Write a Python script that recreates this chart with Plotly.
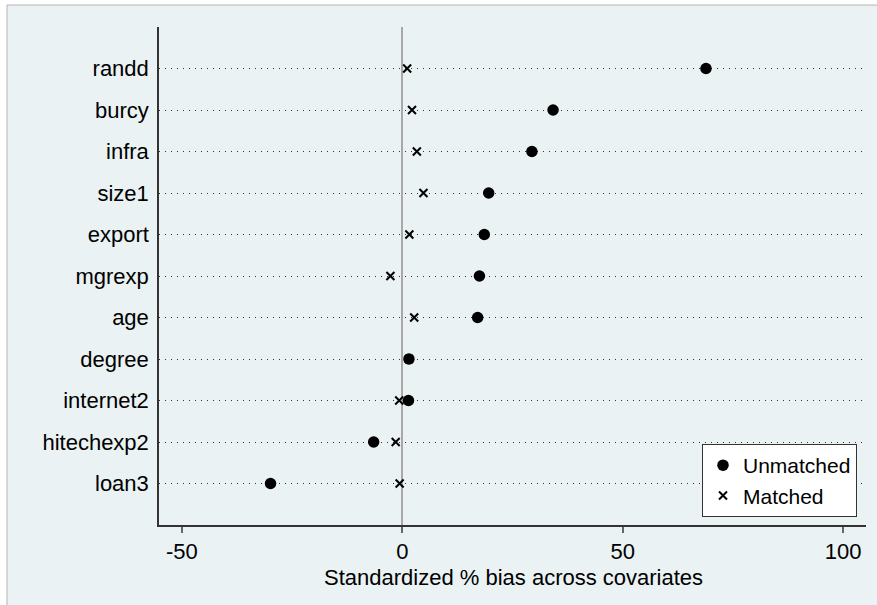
import plotly.graph_objects as go

# Data (top-to-bottom order as displayed)
covariates = ["randd", "burcy", "infra", "size1", "export", "mgrexp", "age",
              "degree", "internet2", "hitechexp2", "loan3"]
unmatched = [68.9, 34.2, 29.4, 19.6, 18.6, 17.5, 17.1, 1.5, 1.4, -6.5, -29.9]
matched = [1.1, 2.2, 3.3, 4.8, 1.6, -2.7, 2.7, 1.5, -0.7, -1.5, -0.6]
x_ticks = [-50, 0, 50, 100]
x_title = "Standardized % bias across covariates"

W, H = 877, 605
L, R, T, B = 159, 11, 27, 80
pw, ph = W - L - R, H - T - B

font = "Liberation Sans, Arial, sans-serif"

fig = go.Figure()
fig.add_trace(go.Scatter(
    x=unmatched, y=covariates, mode="markers", name="Unmatched",
    marker=dict(symbol="circle", size=11.5, color="black"),
))
fig.add_trace(go.Scatter(
    x=matched, y=covariates, mode="markers", name="Matched",
    marker=dict(symbol="x-thin", size=8, color="black",
                line=dict(width=2, color="black")),
))

def px_x(p):
    return (p - L) / pw

def px_y(p):
    return (H - B - p) / ph

# graph region background with thin border (top/left visible)
fig.add_shape(type="rect", xref="paper", yref="paper", layer="below",
              x0=px_x(7), x1=px_x(W + 10), y0=px_y(H + 10), y1=px_y(5),
              fillcolor="#eaf2f3", line=dict(color="#b4b4b4", width=1))

# x-axis title
fig.add_annotation(text=x_title, xref="paper", yref="paper",
                   x=px_x(513), y=px_y(577), xanchor="center", yanchor="middle",
                   showarrow=False, font=dict(size=22))

fig.update_layout(
    width=W, height=H,
    margin=dict(l=L, r=R, t=T, b=B, pad=0),
    paper_bgcolor="white",
    plot_bgcolor="white",
    font=dict(family=font, size=22, color="black"),
    showlegend=True,
    legend=dict(
        x=px_x(857), y=px_y(517), xanchor="right", yanchor="bottom",
        bgcolor="white", bordercolor="#333333", borderwidth=1,
        font=dict(size=21), tracegroupgap=0, itemwidth=30,
    ),
    xaxis=dict(
        range=[-55.2, 105.2], tickvals=x_ticks, ticktext=[str(v) for v in x_ticks],
        showgrid=False, zeroline=True, zerolinecolor="#a8a8a8", zerolinewidth=2,
        showline=True, linecolor="#333333", linewidth=1.5,
        ticks="outside", ticklen=6, tickwidth=1.5, tickcolor="#666666",
        tickfont=dict(size=22),
    ),
    yaxis=dict(
        categoryorder="array", categoryarray=covariates[::-1],
        range=[-1, 10 + 1],
        showgrid=True, gridcolor="#333333", gridwidth=1, griddash="1px,5px",
        zeroline=False,
        showline=True, linecolor="#333333", linewidth=1.5,
        ticks="outside", ticklen=4, tickcolor="rgba(0,0,0,0)",
        tickfont=dict(size=22),
    ),
)

fig.write_html("out.html")
